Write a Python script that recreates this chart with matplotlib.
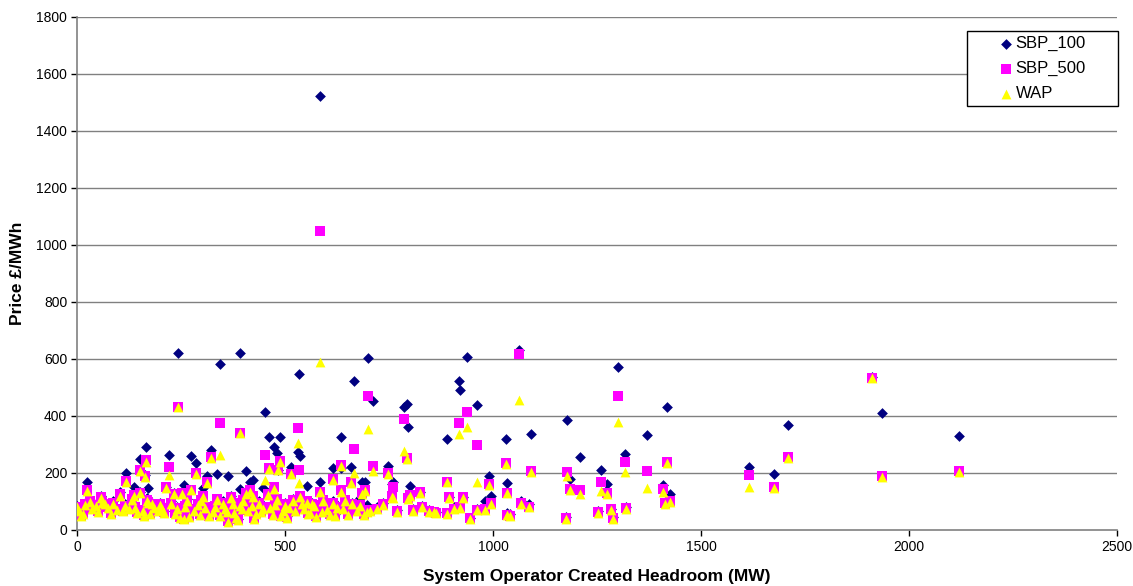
import matplotlib
matplotlib.use("Agg")
import matplotlib.pyplot as plt
from matplotlib.patches import Rectangle

# ── Data: headroom (MW) and three prices (£/MWh) ──
headroom = [
    0, 5, 10, 15, 20, 25, 30, 35, 45, 50, 57, 60, 68, 75, 82, 87, 95, 103,
    110, 115, 118, 125, 131, 138, 140, 145, 151, 151, 158, 160, 163, 166,
    168, 171, 175, 180, 185, 195, 199, 205, 210, 214, 220, 225, 232, 236,
    240, 243, 248, 252, 256, 260, 265, 270, 273, 280, 286, 290, 296, 298,
    303, 308, 313, 318, 321, 327, 332, 336, 343, 343, 350, 355, 360, 364,
    370, 375, 378, 382, 386, 391, 392, 396, 400, 406, 410, 415, 420, 424,
    425, 430, 438, 442, 446, 452, 458, 462, 464, 470, 473, 476, 480, 484,
    489, 490, 495, 500, 505, 510, 514, 520, 525, 532, 533, 536, 540, 545,
    552, 555, 560, 565, 570, 575, 584, 584, 588, 592, 600, 608, 615, 616,
    620, 624, 634, 635, 640, 644, 652, 658, 660, 666, 672, 680, 684, 690,
    692, 697, 700, 705, 712, 720, 735, 748, 758, 759, 770, 785, 794, 795,
    800, 808, 825, 828, 845, 857, 863, 889, 889, 895, 907, 919, 920, 927,
    938, 945, 961, 961, 981, 989, 995, 1031, 1033, 1033, 1040, 1063, 1066,
    1087, 1091, 1176, 1177, 1186, 1208, 1251, 1260, 1273, 1283, 1289, 1301,
    1317, 1320, 1369, 1408, 1413, 1418, 1426, 1616, 1676, 1710, 1910, 1936,
    2119,
]
sbp_100 = [
    85, 70, 52, 60, 95, 170, 105, 80, 90, 70, 120, 100, 95, 85, 60, 100, 75, 135,
    70, 90, 201, 80, 117, 150, 85, 65, 248, 135, 75, 55, 193, 292,
    111, 146, 60, 95, 85, 70, 94, 80, 65, 152, 263, 100, 129, 60,
    80, 621, 50, 131, 158, 90, 110, 55, 260, 75, 234, 95, 60, 110,
    146, 85, 190, 55, 279, 70, 90, 198, 582, 55, 100, 80, 70, 190,
    120, 100, 65, 50, 40, 620, 143, 80, 110, 206, 75, 170, 90, 176,
    45, 60, 100, 70, 146, 415, 130, 328, 85, 60, 290, 95, 269, 211,
    325, 55, 75, 95, 50, 85, 222, 110, 70, 275, 547, 258, 100, 80,
    153, 60, 65, 95, 90, 50, 1524, 170, 70, 110, 75, 60, 100, 216,
    55, 85, 325, 218, 80, 105, 60, 222, 95, 521, 75, 111, 170, 60,
    170, 88, 603, 75, 453, 80, 95, 226, 162, 170, 70, 433, 441, 361,
    154, 75, 132, 85, 70, 64, 62, 318, 60, 115, 82, 523, 492, 115,
    608, 42, 437, 72, 103, 188, 120, 318, 165, 60, 55, 632, 100,
    90, 338, 45, 386, 180, 256, 65, 212, 162, 75, 45, 573,
    268, 80, 332, 159, 98, 433, 126, 220, 197, 369, 536, 412,
    329,
]
sbp_500 = [
    82, 68, 50, 58, 92, 142, 100, 78, 88, 66, 117, 98, 92, 82, 58, 95, 72, 125,
    68, 85, 172, 75, 110, 123, 80, 62, 212, 130, 70, 52, 190, 245,
    105, 98, 58, 92, 80, 68, 90, 78, 62, 150, 222, 95, 127, 58,
    76, 432, 45, 128, 40, 85, 105, 50, 142, 72, 200, 90, 55, 105,
    120, 80, 168, 50, 255, 65, 85, 110, 374, 53, 95, 75, 65, 32,
    115, 95, 60, 45, 38, 341, 90, 75, 105, 130, 70, 140, 88, 120,
    42, 58, 95, 66, 80, 263, 125, 218, 80, 55, 150, 90, 110, 211,
    241, 50, 70, 90, 45, 80, 197, 105, 68, 359, 212, 120, 95, 78,
    100, 58, 60, 92, 88, 48, 1050, 135, 66, 105, 72, 55, 95, 180,
    52, 80, 228, 140, 75, 105, 55, 170, 92, 285, 70, 88, 130, 55,
    140, 64, 470, 70, 226, 75, 90, 199, 118, 152, 65, 390, 253, 112,
    123, 70, 132, 82, 65, 64, 61, 170, 59, 115, 75, 376, 80, 115,
    414, 41, 298, 71, 72, 160, 95, 235, 130, 53, 50, 617, 94,
    82, 206, 41, 202, 143, 141, 62, 167, 130, 73, 41, 470,
    238, 76, 208, 143, 94, 238, 100, 194, 150, 255, 534, 188,
    206,
]
wap = [
    80, 65, 48, 55, 88, 138, 98, 75, 85, 64, 112, 95, 90, 78, 56, 92, 70, 120,
    65, 83, 168, 72, 105, 120, 78, 60, 208, 128, 68, 50, 185, 240,
    100, 95, 55, 90, 78, 65, 88, 75, 60, 148, 193, 90, 125, 55,
    74, 430, 42, 125, 37, 82, 100, 47, 140, 68, 197, 88, 53, 102,
    115, 78, 165, 48, 252, 62, 82, 105, 263, 50, 92, 72, 62, 29,
    112, 92, 58, 43, 36, 339, 85, 72, 100, 125, 68, 135, 85, 115,
    40, 55, 90, 64, 75, 176, 122, 213, 78, 52, 145, 88, 105, 209,
    240, 48, 68, 85, 42, 78, 195, 100, 65, 306, 166, 115, 92, 75,
    95, 55, 58, 90, 85, 45, 588, 132, 64, 100, 70, 52, 92, 175,
    50, 78, 226, 135, 72, 103, 53, 165, 90, 199, 68, 85, 125, 52,
    138, 62, 356, 68, 206, 72, 88, 197, 115, 111, 62, 278, 250, 110,
    120, 68, 130, 80, 62, 62, 59, 168, 57, 113, 72, 338, 78, 113,
    362, 39, 170, 69, 70, 157, 92, 233, 128, 51, 48, 455, 92,
    80, 204, 39, 188, 140, 127, 60, 138, 125, 71, 39, 380,
    203, 74, 148, 135, 92, 236, 98, 150, 148, 253, 532, 186,
    204,
]

y_ticks = list(range(0, 1801, 200))
x_ticks = list(range(0, 2501, 500))

plt.rcParams["font.family"] = ["Liberation Sans", "DejaVu Sans"]

W, H = 1133, 586
fig = plt.figure(figsize=(W / 100, H / 100), dpi=100)
ax = fig.add_axes([0.068, 0.0956, 0.918, 0.8754])

ax.scatter(headroom, sbp_100, marker="D", s=30, color="#000080",
           linewidths=0, label="SBP_100", zorder=3)
ax.scatter(headroom, sbp_500, marker="s", s=42, color="#FF00FF",
           linewidths=0, label="SBP_500", zorder=4)
ax.scatter(headroom, wap, marker="^", s=50, color="#FFFF00",
           linewidths=0, label="WAP", zorder=5)

ax.set_xlim(0, 2500)
ax.set_ylim(0, 1800)
ax.set_xticks(x_ticks)
ax.set_yticks(y_ticks)
ax.tick_params(labelsize=10, direction="out", length=4, width=1,
               color="black", pad=3)

# horizontal gridlines, Excel style
for v in y_ticks[1:]:
    ax.axhline(v, color="#808080", linewidth=1, zorder=1)

for side in ("top", "right"):
    ax.spines[side].set_visible(False)
for side in ("left", "bottom"):
    ax.spines[side].set_color("#808080")
    ax.spines[side].set_linewidth(1.2)

ax.set_xlabel("System Operator Created Headroom (MW)", fontsize=12.5,
              fontweight="bold", labelpad=11)
ax.set_ylabel("Price £/MWh", fontsize=12.5, fontweight="bold", labelpad=8)

# legend box drawn by hand (wide Excel-style frame), entries on top of it
box = Rectangle((967 / W, 1 - 106 / H), 151 / W, 75 / H,
                transform=fig.transFigure, facecolor="white",
                edgecolor="black", linewidth=1, zorder=6)
ax.add_patch(box)
box.set_clip_on(False)

leg = ax.legend(loc="upper left", bbox_to_anchor=(999 / W, 1 - 36 / H),
                bbox_transform=fig.transFigure, fontsize=12, frameon=False,
                borderpad=0, borderaxespad=0, handletextpad=0.2,
                labelspacing=0.6, handlelength=0.8, scatterpoints=1)
leg.set_zorder(7)

fig.savefig("out.png", dpi=100, facecolor="white")
